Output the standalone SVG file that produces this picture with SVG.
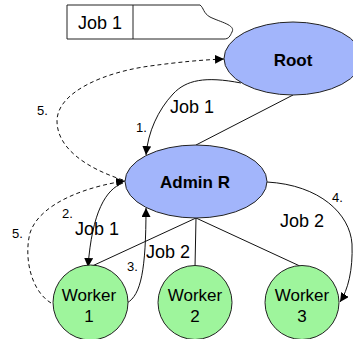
<svg xmlns="http://www.w3.org/2000/svg" width="353" height="339" viewBox="0 0 353 339">
<style>
.node{stroke:#222;stroke-width:1}
.blue{fill:#a2b5fb}
.green{fill:#9ef59c}
.t{font-family:"Liberation Sans",Arial,sans-serif;fill:#000}
.lbl{font-size:18px}
.num{font-size:13px}
.b{font-weight:bold;font-size:17px}
.w{font-size:17px}
.c{fill:none;stroke:#111;stroke-width:1}
.d{stroke-dasharray:4,3}
</style>
<defs>
<marker id="ah" viewBox="0 0 10 10" refX="10" refY="5" markerWidth="9" markerHeight="9" markerUnits="userSpaceOnUse" orient="auto">
<path d="M0,0 L10,5 L0,10 Z" fill="#000"/>
</marker>
</defs>
<rect width="353" height="339" fill="#fff"/>
<g id="jobbox">
<path class="node" fill="#fff" d="M67,5 H200 C204,8 203,13 210,17 C220,22 236,25 232,32 C230,36 229,39 224,39 H67 Z"/>
<line class="node" x1="133" y1="5" x2="133" y2="39"/>
<text class="t lbl" x="100" y="29" text-anchor="middle">Job 1</text>
</g>
<g id="connectors">
<line class="c" x1="293" y1="95" x2="196" y2="145"/>
<line class="c" x1="196" y1="218" x2="90" y2="267"/>
<line class="c" x1="196" y1="218" x2="195" y2="267"/>
<line class="c" x1="196" y1="218" x2="302" y2="267"/>
<path class="c" d="M241,83 C205,76 186,80 173,94 C158,110 148,132 146,155" marker-end="url(#ah)"/>
<path class="c d" d="M123,180 C86,168 57,148 57,121 C57,92 105,72 150,66 C180,62 200,60 224,59" marker-end="url(#ah)"/>
<path class="c d" d="M51,303 C30,290 24,256 30,233 C40,202 90,186 125,181" marker-end="url(#ah)"/>
<path class="c" d="M123,183 C106,189 92,212 88,267" marker-end="url(#ah)"/>
<path class="c" d="M127,303 C141,295 146,270 146,208" marker-end="url(#ah)"/>
<path class="c" d="M267,182 C320,185 350,214 352,244 C353,270 348,290 340,302" marker-end="url(#ah)"/>
</g>
<g id="root">
<ellipse class="node blue" cx="293" cy="58.5" rx="69" ry="36.5"/>
<text class="t b" x="293" y="66" text-anchor="middle">Root</text>
</g>
<g id="admin">
<ellipse class="node blue" cx="196" cy="181.5" rx="71" ry="36.5"/>
<text class="t b" x="195" y="188" text-anchor="middle">Admin R</text>
</g>
<g id="worker1">
<circle class="node green" cx="90.5" cy="302.5" r="37.5"/>
<text class="t w" x="89" y="301" text-anchor="middle">Worker</text>
<text class="t w" x="89" y="322" text-anchor="middle">1</text>
</g>
<g id="worker2">
<circle class="node green" cx="195" cy="302.5" r="37"/>
<text class="t w" x="195" y="301" text-anchor="middle">Worker</text>
<text class="t w" x="195" y="322" text-anchor="middle">2</text>
</g>
<g id="worker3">
<circle class="node green" cx="302" cy="302.5" r="37"/>
<text class="t w" x="302" y="301" text-anchor="middle">Worker</text>
<text class="t w" x="302" y="322" text-anchor="middle">3</text>
</g>
<g id="labels">
<text class="t lbl" x="170" y="113">Job 1</text>
<text class="t num" x="136" y="132">1.</text>
<text class="t num" x="37" y="115">5.</text>
<text class="t num" x="62" y="218">2.</text>
<text class="t lbl" x="75" y="235">Job 1</text>
<text class="t num" x="12" y="238">5.</text>
<text class="t num" x="127" y="271">3.</text>
<text class="t lbl" x="146" y="258">Job 2</text>
<text class="t lbl" x="280" y="227">Job 2</text>
<text class="t num" x="332" y="202">4.</text>
</g>
</svg>
